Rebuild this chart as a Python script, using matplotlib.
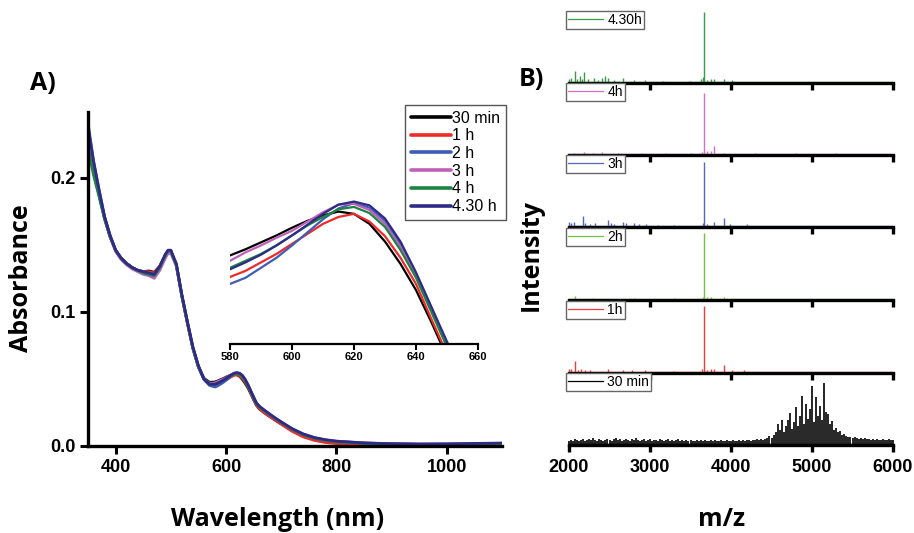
import matplotlib
matplotlib.use("Agg")
import matplotlib.pyplot as plt
from matplotlib.lines import Line2D

W, H = 914, 533
fig = plt.figure(figsize=(W / 100, H / 100), dpi=100)


def fx(px):
    return px / W


def fy(py):
    return 1 - py / H


LABEL_FONT = "Open Sans"
TICK_FONT = "Liberation Sans"

# ---------------- UV-vis absorbance spectra (panel A) ----------------
wavelength = [350, 360, 370, 380, 390, 400, 410, 420, 430, 440, 450, 460, 470,
              480, 490, 495, 500, 505, 510, 520, 530, 540, 550, 560, 570,
              580, 585, 590, 595, 600, 605, 610, 615, 620, 625, 630, 635, 640,
              645, 650, 655,
              660, 670, 680, 690, 700, 720, 740, 760, 780, 800, 850, 900, 950,
              1000, 1050, 1100]

abs_30min = [0.226, 0.205, 0.187, 0.170, 0.156, 0.146, 0.140, 0.136, 0.133, 0.131, 0.130, 0.1305, 0.1295,
             0.134, 0.142, 0.1455, 0.1455, 0.140, 0.135, 0.112, 0.092, 0.073, 0.059, 0.0505, 0.0475,
             0.0477, 0.0485, 0.0494, 0.0503, 0.0513, 0.0522, 0.0529, 0.0534, 0.0531, 0.0518, 0.0495, 0.0466, 0.0432,
             0.0390, 0.0345, 0.0305,
             0.0278, 0.0246, 0.0218, 0.0192, 0.0166, 0.0117, 0.0078, 0.0052, 0.0036, 0.0027, 0.0016, 0.0011, 0.0009,
             0.0009, 0.0010, 0.0011]
abs_1h = [0.229, 0.206, 0.188, 0.170, 0.156, 0.146, 0.140, 0.136, 0.133, 0.131, 0.130, 0.130, 0.129,
          0.134, 0.142, 0.1455, 0.1455, 0.140, 0.135, 0.112, 0.092, 0.073, 0.059, 0.0500, 0.0462,
          0.0449, 0.0457, 0.0468, 0.0479, 0.0492, 0.0505, 0.0518, 0.0527, 0.0531, 0.0521, 0.0502, 0.0474, 0.0440,
          0.0394, 0.0349, 0.0308,
          0.0280, 0.0247, 0.0217, 0.0189, 0.0162, 0.0109, 0.0068, 0.0042, 0.0026, 0.0018, 0.0010, 0.0007, 0.0006,
          0.0006, 0.0007, 0.0008]
abs_2h = [0.241, 0.213, 0.191, 0.171, 0.157, 0.146, 0.140, 0.136, 0.133, 0.131, 0.130, 0.129, 0.127,
          0.133, 0.142, 0.1455, 0.1455, 0.140, 0.135, 0.112, 0.092, 0.073, 0.059, 0.0495, 0.0452,
          0.0440, 0.0448, 0.0461, 0.0474, 0.0490, 0.0507, 0.0524, 0.0538, 0.0545, 0.0539, 0.0522, 0.0492, 0.0453,
          0.0408, 0.0363, 0.0320,
          0.0296, 0.0262, 0.0231, 0.0203, 0.0176, 0.0125, 0.0086, 0.0060, 0.0044, 0.0034, 0.0022, 0.0016, 0.0014,
          0.0015, 0.0017, 0.0020]
abs_3h = [0.233, 0.209, 0.189, 0.170, 0.156, 0.145, 0.139, 0.135, 0.132, 0.130, 0.128, 0.127, 0.125,
          0.131, 0.140, 0.1435, 0.1435, 0.139, 0.134, 0.112, 0.092, 0.073, 0.059, 0.0502, 0.0468,
          0.0470, 0.0481, 0.0490, 0.0500, 0.0509, 0.0521, 0.0533, 0.0543, 0.0544, 0.0536, 0.0518, 0.0488, 0.0450,
          0.0405, 0.0360, 0.0318,
          0.0294, 0.0263, 0.0233, 0.0205, 0.0178, 0.0127, 0.0088, 0.0062, 0.0046, 0.0036, 0.0023, 0.0016, 0.0013,
          0.0013, 0.0014, 0.0015]
abs_4h = [0.222, 0.202, 0.186, 0.169, 0.156, 0.146, 0.140, 0.136, 0.133, 0.131, 0.129, 0.128, 0.127,
          0.133, 0.142, 0.1455, 0.1455, 0.140, 0.135, 0.112, 0.092, 0.073, 0.059, 0.0500, 0.0462,
          0.0461, 0.0470, 0.0479, 0.0490, 0.0503, 0.0516, 0.0527, 0.0537, 0.0540, 0.0532, 0.0514, 0.0484, 0.0448,
          0.0403, 0.0358, 0.0316,
          0.0293, 0.0261, 0.0231, 0.0203, 0.0176, 0.0125, 0.0085, 0.0058, 0.0042, 0.0032, 0.0020, 0.0014, 0.0012,
          0.0012, 0.0013, 0.0014]
abs_430h = [0.238, 0.212, 0.191, 0.171, 0.157, 0.146, 0.140, 0.136, 0.133, 0.131, 0.130, 0.129, 0.128,
            0.134, 0.143, 0.146, 0.146, 0.141, 0.136, 0.113, 0.093, 0.074, 0.060, 0.0500, 0.0460,
            0.0459, 0.0468, 0.0478, 0.0490, 0.0503, 0.0517, 0.0531, 0.0543, 0.0547, 0.0542, 0.0525, 0.0495, 0.0455,
            0.0410, 0.0365, 0.0322,
            0.0298, 0.0266, 0.0236, 0.0207, 0.0180, 0.0129, 0.0090, 0.0063, 0.0047, 0.0036, 0.0023, 0.0017, 0.0015,
            0.0016, 0.0019, 0.0022]

uv_labels = ["30 min", "1 h", "2 h", "3 h", "4 h", "4.30 h"]
uv_colors = ["#000000", "#ee2a2a", "#3f5db5", "#bf60b8", "#1c8442", "#2e2b86"]
uv_series = [abs_30min, abs_1h, abs_2h, abs_3h, abs_4h, abs_430h]

axA = fig.add_axes([fx(88), fy(446), fx(502 - 88), (446 - 112) / H])
for y, c, lab in zip(uv_series, uv_colors, uv_labels):
    axA.plot(wavelength, y, color=c, lw=2.0, label=lab, solid_capstyle="round")
axA.set_xlim(350, 1100)
axA.set_ylim(0, 0.249)
axA.set_xticks([400, 600, 800, 1000])
axA.set_yticks([0.0, 0.1, 0.2])
axA.set_yticklabels(["0.0", "0.1", "0.2"])
for s in ["top", "right"]:
    axA.spines[s].set_visible(False)
for s in ["left", "bottom"]:
    axA.spines[s].set_linewidth(2.4)
axA.tick_params(direction="out", length=6, width=2.2, pad=3)
for t in axA.get_xticklabels() + axA.get_yticklabels():
    t.set_fontfamily(TICK_FONT)
    t.set_fontweight("bold")
    t.set_fontsize(13)

fig.text(fx(22), fy(278), "Absorbance", rotation=90, ha="center", va="center",
         fontfamily=LABEL_FONT, fontweight="bold", fontsize=18)
fig.text(fx(278), fy(520), "Wavelength (nm)", ha="center", va="center",
         fontfamily=LABEL_FONT, fontweight="bold", fontsize=18)
fig.text(fx(43), fy(83), "A)", ha="center", va="center",
         fontfamily=LABEL_FONT, fontweight="bold", fontsize=18)

handles, labels = axA.get_legend_handles_labels()
legA = fig.legend(handles, labels, loc="upper left",
                  bbox_to_anchor=(fx(405), fy(105)), bbox_transform=fig.transFigure,
                  prop={"family": TICK_FONT, "size": 11.5}, handlelength=2.5,
                  handletextpad=0.1, labelspacing=0.17, borderpad=0.35,
                  borderaxespad=0, fancybox=False, framealpha=1,
                  edgecolor="#555555")
legA.get_frame().set_linewidth(1.0)
for ln in legA.get_lines():
    ln.set_linewidth(2.6)

# Inset: zoom on the 580-660 nm band
axI = fig.add_axes([fx(230), fy(344), fx(478 - 230), (344 - 190) / H])
axI.patch.set_alpha(0)
for y, c in zip(uv_series, uv_colors):
    axI.plot(wavelength, y, color=c, lw=1.6)
axI.set_xlim(580, 660)
axI.set_ylim(0.0362, 0.0562)
axI.set_xticks([580, 600, 620, 640, 660])
axI.set_yticks([])
for s in ["top", "right", "left"]:
    axI.spines[s].set_visible(False)
axI.spines["bottom"].set_linewidth(1.6)
axI.tick_params(axis="x", direction="out", length=4, width=1.5, pad=2)
for t in axI.get_xticklabels():
    t.set_fontfamily(TICK_FONT)
    t.set_fontweight("bold")
    t.set_fontsize(8)

# ---------------- Mass spectra (panel B) ----------------
ms_labels = ["4.30h", "4h", "3h", "2h", "1h", "30 min"]
ms_colors = ["#3a9a4a", "#d46fc8", "#5566c2", "#72c244", "#f23c3c", "#000000"]

mz_430h = [2000, 2030, 2074, 2100, 2136, 2160, 2190, 2240, 2310, 2360, 2403, 2444, 2486, 2560,
           2670, 2800, 2938, 3160, 3490, 3630, 3655, 3671, 3700, 3750, 3790, 3917, 4010]
int_430h = [3, 4, 11, 3, 6, 3, 10, 3, 4, 2, 4, 6, 4, 2,
            4, 2, 2, 1, 1, 3, 5, 70, 2, 3, 3, 3, 2]

mz_4h = [2060, 2190, 2300, 2403, 2600, 2900, 3200, 3500, 3640, 3671, 3700, 3750, 3790, 3917,
         4300, 4800, 5300]
int_4h = [1, 2, 1, 2, 1, 1, 1, 1, 2, 61, 3, 3, 8, 1,
          1, 1, 1]

mz_3h = [2000, 2030, 2060, 2169, 2200, 2260, 2320, 2486, 2520, 2560, 2670, 2700, 2800, 2870,
         2950, 3100, 3300, 3655, 3671, 3700, 3790, 3917, 3990, 4196]
int_3h = [4, 3, 4, 10, 3, 2, 3, 6, 3, 2, 4, 3, 3, 2,
          2, 1, 1, 3, 64, 2, 4, 8, 2, 2]

mz_2h = [2074, 2300, 2800, 3300, 3650, 3671, 3700, 3750, 3917]
int_2h = [3, 1, 1, 1, 2, 66, 2, 2, 2]

mz_1h = [2000, 2030, 2074, 2110, 2150, 2200, 2260, 2486, 2670, 2780, 2938, 3300, 3640, 3671,
         3700, 3750, 3790, 3917, 4010, 4160]
int_1h = [3, 3, 11, 2, 3, 2, 2, 3, 2, 2, 2, 1, 3, 66,
          2, 3, 3, 7, 2, 2]

# 30 min: sampled every 25 m/z from 2000 to 6000
mz_30min = list(range(2000, 6001, 25))
int_30min = [3, 4, 3, 5, 4, 3, 4, 5, 3, 4, 5, 4, 6, 4, 3, 5, 4, 3, 4, 5,
             4, 3, 5, 6, 4, 5, 3, 4, 5, 4, 3, 5, 4, 6, 4, 3, 4, 5, 3, 4,
             5, 3, 4, 4, 3, 5, 4, 3, 4, 5, 3, 4, 3, 4, 5, 3, 4, 3, 4, 3,
             4, 3, 3, 4, 3, 4, 3, 4, 3, 3, 4, 3, 4, 3, 3, 4, 3, 3, 4, 3,
             3, 4, 3, 3, 4, 3, 4, 3, 4, 4, 3, 4, 4, 5, 4, 5, 4, 5, 6, 8,
             6, 9, 12, 20, 14, 24, 12, 18, 24, 31, 15, 22, 37, 18, 28, 48, 20, 40, 25, 35,
             58, 22, 47, 28, 38, 24, 61, 32, 30, 20, 23, 14, 16, 12, 13, 9, 10, 8, 7, 7,
             6, 7, 6, 5, 6, 5, 6, 5, 5, 4, 5, 4, 5, 4, 4, 5, 4, 4, 5, 4,
             4]

ms_mz = [mz_430h, mz_4h, mz_3h, mz_2h, mz_1h, mz_30min]
ms_int = [int_430h, int_4h, int_3h, int_2h, int_1h, int_30min]
baselines = [83, 155, 227, 300, 373, 445]
panel_h = 72

for i, (mz, inten, col, lab, base) in enumerate(zip(ms_mz, ms_int, ms_colors, ms_labels, baselines)):
    ax = fig.add_axes([fx(569), fy(base), fx(893 - 569), panel_h / H])
    ax.patch.set_alpha(0)
    dense = i == 5
    ax.vlines(mz, 0, inten, color=col, lw=1.2 if dense else 1.0, clip_on=False)
    ax.axhline(0, color=col, lw=1.0)
    ax.set_xlim(2000, 6000)
    ax.set_ylim(-1.5, 70.5)
    ax.set_yticks([])
    ax.set_xticks([2000, 3000, 4000, 5000, 6000])
    for s in ["top", "right", "left"]:
        ax.spines[s].set_visible(False)
    ax.spines["bottom"].set_linewidth(2.4)
    ax.tick_params(axis="x", direction="out", length=5, width=2.4, pad=5)
    if i < 5:
        ax.set_xticklabels([])
    else:
        for t in ax.get_xticklabels():
            t.set_fontfamily(TICK_FONT)
            t.set_fontweight("bold")
            t.set_fontsize(13)
    h = Line2D([], [], color=col, lw=0.9)
    leg = ax.legend([h], [lab], loc="upper left", bbox_to_anchor=(-0.008, 1.0),
                    prop={"family": TICK_FONT, "size": 10}, handlelength=2.5,
                    handletextpad=0.3, borderpad=0.15, borderaxespad=0,
                    fancybox=False, framealpha=1, edgecolor="#666666")
    leg.get_frame().set_linewidth(1.0)
    leg.set_zorder(5)

fig.text(fx(531), fy(255), "Intensity", rotation=90, ha="center", va="center",
         fontfamily=LABEL_FONT, fontweight="bold", fontsize=18)
fig.text(fx(722), fy(519), "m/z", ha="center", va="center",
         fontfamily=LABEL_FONT, fontweight="bold", fontsize=18)
fig.text(fx(531), fy(79), "B)", ha="center", va="center",
         fontfamily=LABEL_FONT, fontweight="bold", fontsize=18)

fig.savefig("out.png", dpi=100)
